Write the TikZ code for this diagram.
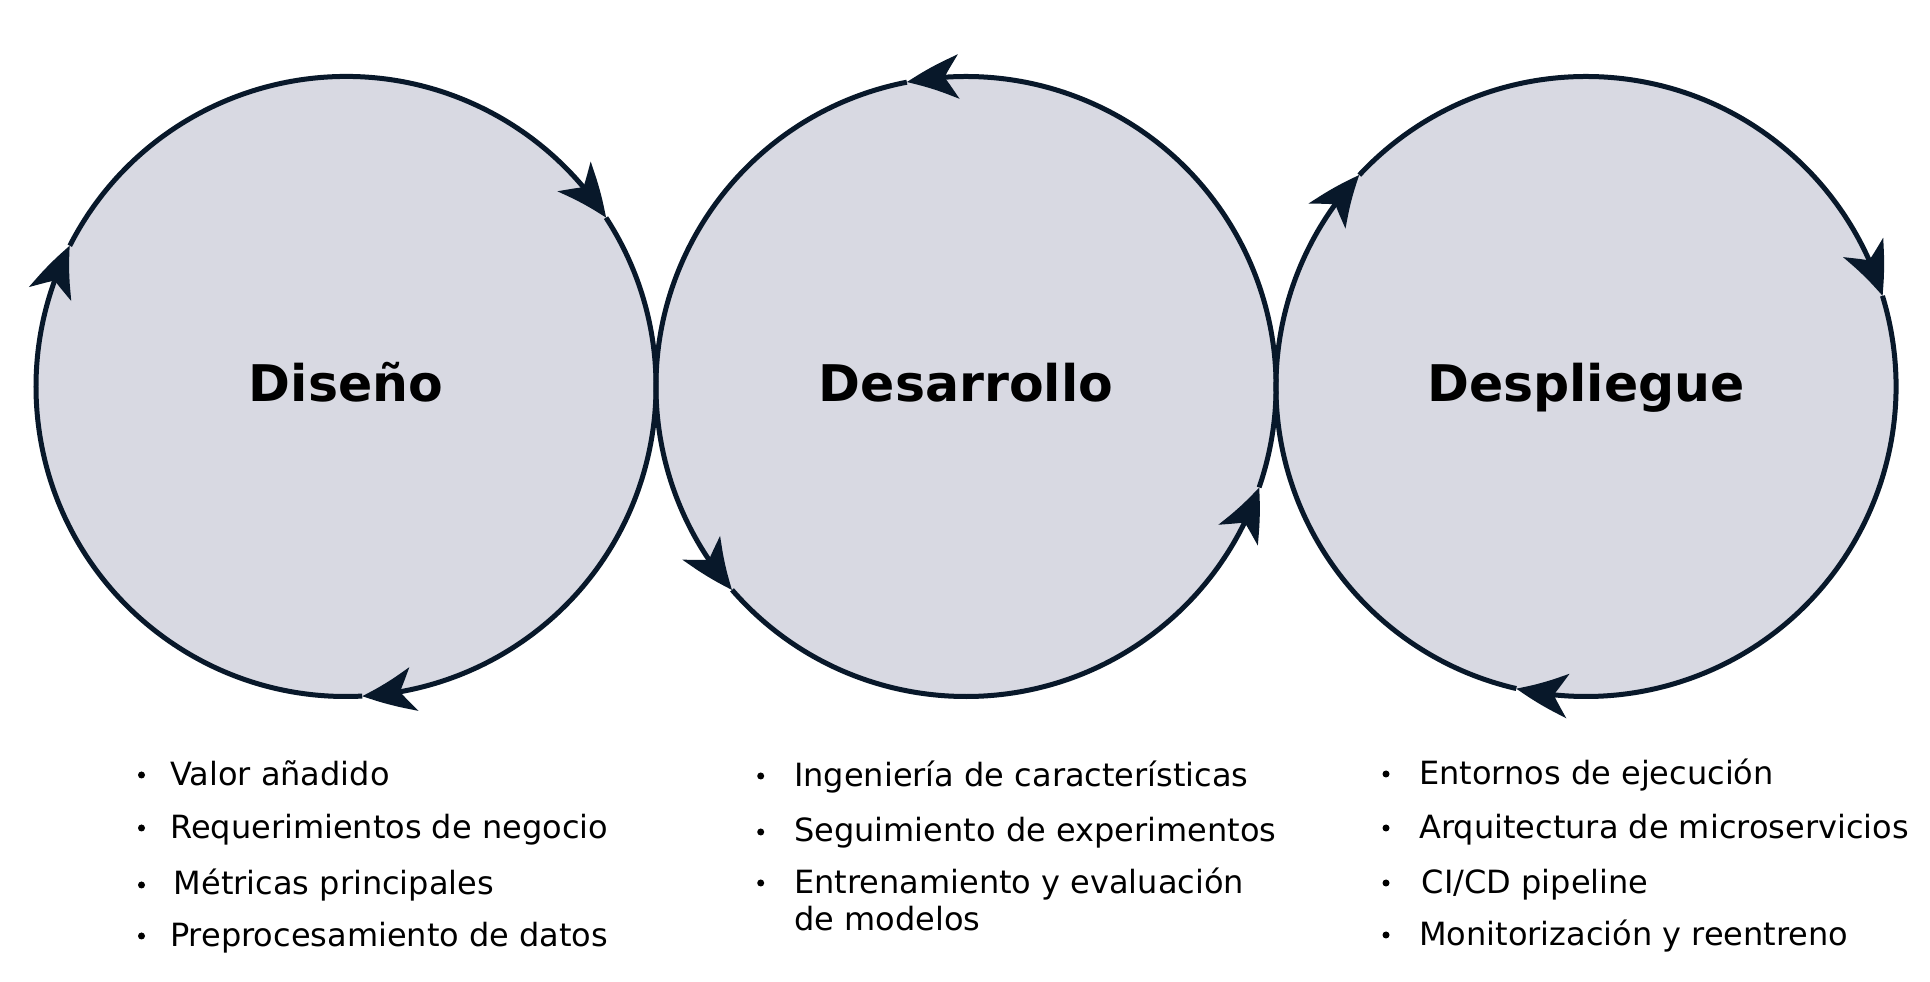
\documentclass[tikz,border=0pt]{standalone}
\usepackage{fontspec}
\setmainfont{DejaVu Sans}
\usetikzlibrary{arrows.meta,bending}
\definecolor{ringfill}{RGB}{216,217,226}
\definecolor{ringline}{RGB}{8,24,42}

\begin{document}
\begin{tikzpicture}[x=1pt,y=1pt,
   phase/.style={circle, fill=ringfill, inner sep=0pt, outer sep=0pt, minimum size=620pt, text height=40pt, text depth=9pt, font=\fontsize{50.5}{60}\selectfont\bfseries},
   cyc/.style={draw=ringline, line width=5pt, -{Stealth[length=52pt,width=44pt,inset=14pt,bend]}},
   item/.style={anchor=base west, inner sep=0pt, align=left, font=\fontsize{32}{37}\selectfont},
   dot/.style={circle, fill=black, inner sep=0pt, minimum size=7pt}]
\useasboundingbox (0,0) rectangle (1930,982);

% the three phases
\node[phase] (dis) at (346,595.5) {Diseño};
\node[phase] (des) at (966,595.5) {Desarrollo};
\node[phase] (dep) at (1586,595.5) {Despliegue};

% Diseño, clockwise
\draw[cyc] (dis.153) arc[start angle=153, end angle=33, radius=310];
\draw[cyc] (dis.33) arc[start angle=33, end angle=-87, radius=310];
\draw[cyc] (dis.273) arc[start angle=273, end angle=153, radius=310];

% Desarrollo, counterclockwise
\draw[cyc] (des.-19) arc[start angle=-19, end angle=101, radius=310];
\draw[cyc] (des.101) arc[start angle=101, end angle=221, radius=310];
\draw[cyc] (des.221) arc[start angle=221, end angle=341, radius=310];

% Despliegue, clockwise
\draw[cyc] (dep.137) arc[start angle=137, end angle=17, radius=310];
\draw[cyc] (dep.17) arc[start angle=17, end angle=-103, radius=310];
\draw[cyc] (dep.257) arc[start angle=257, end angle=137, radius=310];

% lists
\node[dot] (d1) at (141.5,207) {};
\node[dot] (d2) at (141.5,154) {};
\node[dot] (d3) at (141.5,97) {};
\node[dot] (d4) at (141.5,46) {};
\node[item] (t1) at (170,196.5) {Valor añadido};
\node[item] (t2) at (170,143.5) {Requerimientos de negocio};
\node[item] (t3) at (173.6,87) {Métricas principales};
\node[item] (t4) at (170,35.5) {Preprocesamiento de datos};

\node[dot] (e1) at (760.7,206) {};
\node[dot] (e2) at (760.7,150) {};
\node[dot] (e3) at (760.7,99) {};
\node[item] (u1) at (794,195.5) {Ingeniería de características};
\node[item] (u2) at (794,140) {Seguimiento de experimentos};
\node[item] (u3) at (794,51.5) {Entrenamiento y evaluación\\de modelos};

\node[dot] (f1) at (1386,208) {};
\node[dot] (f2) at (1386,154) {};
\node[dot] (f3) at (1386,99) {};
\node[dot] (f4) at (1386,47) {};
\node[item] (v1) at (1419,197.5) {Entornos de ejecución};
\node[item] (v2) at (1419,143.5) {Arquitectura de microservicios};
\node[item] (v3) at (1421.7,88.5) {CI/CD pipeline};
\node[item] (v4) at (1419,36.5) {Monitorización y reentreno};
\end{tikzpicture}
\end{document}
